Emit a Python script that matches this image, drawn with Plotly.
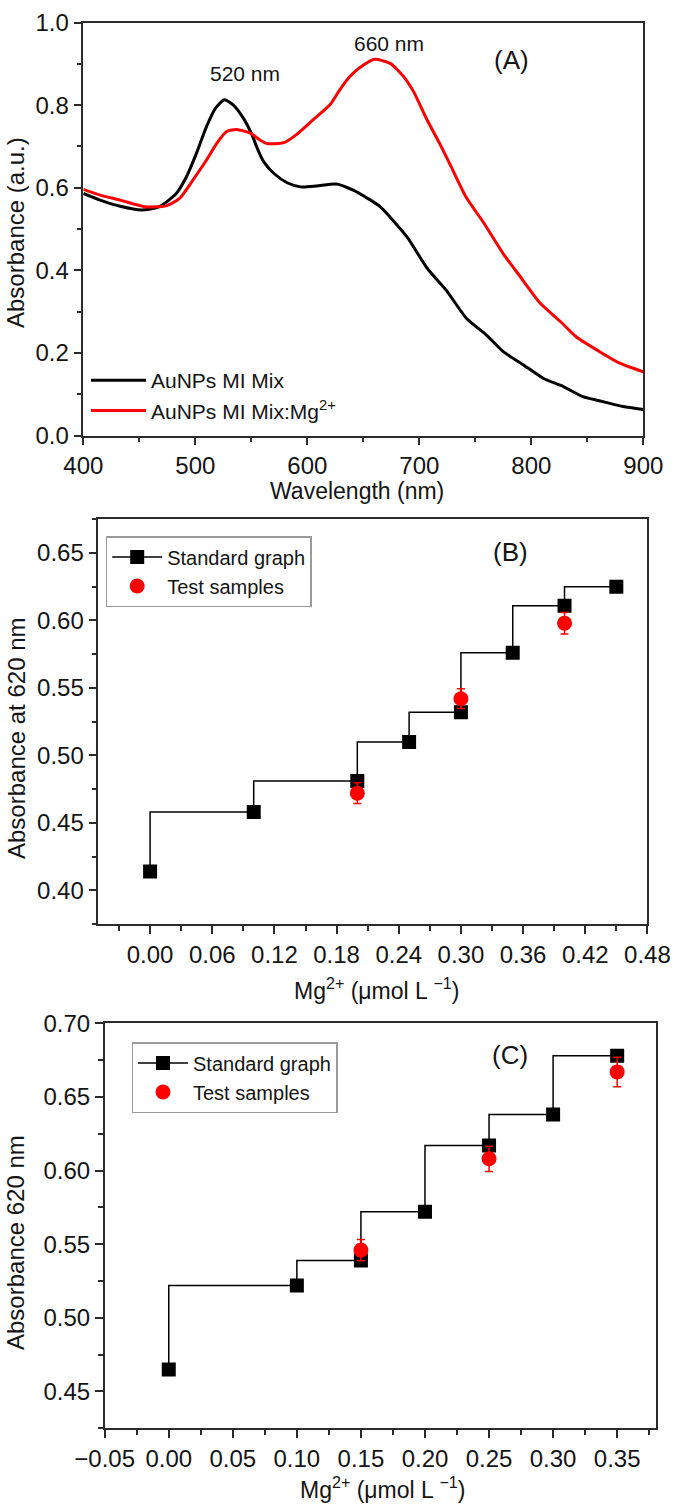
import plotly.graph_objects as go

# ---------------- Panel A : UV-vis spectra ----------------
wl_black = [400, 415, 433, 452, 468, 483, 492, 501, 510, 518, 526, 534, 543, 550, 556, 561,
            570, 582, 594, 608, 626, 641, 654, 665, 689, 707, 724, 742, 760, 775, 793, 811,
            829, 846, 864, 882, 900]
abs_black = [0.586, 0.570, 0.555, 0.546, 0.554, 0.586, 0.626, 0.683, 0.748, 0.792, 0.813, 0.800,
             0.768, 0.732, 0.691, 0.663, 0.635, 0.612, 0.602, 0.604, 0.609, 0.594, 0.574, 0.554,
             0.481, 0.405, 0.352, 0.284, 0.243, 0.203, 0.171, 0.138, 0.118, 0.094, 0.082, 0.070, 0.063]

wl_red = [400, 415, 433, 455, 474, 486, 498, 510, 519, 528, 537, 549, 558, 564, 579, 590, 605,
          620, 629, 638, 647, 660, 674, 686, 695, 707, 718, 727, 742, 757, 775, 790, 808, 826,
          840, 861, 879, 900]
abs_red = [0.596, 0.582, 0.570, 0.554, 0.556, 0.574, 0.619, 0.667, 0.707, 0.736, 0.741, 0.732,
           0.715, 0.707, 0.709, 0.728, 0.764, 0.800, 0.837, 0.869, 0.891, 0.911, 0.901, 0.869,
           0.832, 0.764, 0.708, 0.659, 0.576, 0.517, 0.440, 0.385, 0.320, 0.276, 0.239, 0.203,
           0.175, 0.154]

# ---------------- Panel B ----------------
conc_b = [0.0, 0.1, 0.2, 0.25, 0.3, 0.35, 0.4, 0.45]
std_b = [0.414, 0.458, 0.481, 0.510, 0.532, 0.576, 0.611, 0.625]
test_conc_b = [0.2, 0.3, 0.4]
test_b = [0.472, 0.542, 0.598]
test_err_b = [0.0077, 0.0073, 0.0080]

# ---------------- Panel C ----------------
conc_c = [0.0, 0.1, 0.15, 0.2, 0.25, 0.3, 0.35]
std_c = [0.465, 0.522, 0.539, 0.572, 0.617, 0.638, 0.678]
test_conc_c = [0.15, 0.25, 0.35]
test_c = [0.546, 0.608, 0.667]
test_err_c = [0.0072, 0.0086, 0.0100]

W, H = 675, 1508
FONT = "Liberation Sans, Arial, sans-serif"
TXT = "#141414"
AX = "#2b2b2b"
RED = "#ff0000"


def px_x(p):
    return p / W


def px_y(p):
    return 1 - p / H


fig = go.Figure()

# Panel A traces
fig.add_trace(go.Scatter(x=wl_black, y=abs_black, mode="lines", name="AuNPs MI Mix",
                         line=dict(color="black", width=3, shape="spline", smoothing=0.6),
                         xaxis="x", yaxis="y", legend="legend"))
fig.add_trace(go.Scatter(x=wl_red, y=abs_red, mode="lines", name="AuNPs MI Mix:Mg<sup>2+</sup>",
                         line=dict(color=RED, width=3, shape="spline", smoothing=0.6),
                         xaxis="x", yaxis="y", legend="legend"))

# Panel B traces
fig.add_trace(go.Scatter(x=conc_b, y=std_b, mode="lines+markers", name="Standard graph",
                         line=dict(color="black", width=1.5, shape="vh"),
                         marker=dict(symbol="square", size=14, color="black"),
                         xaxis="x2", yaxis="y2", legend="legend2"))
fig.add_trace(go.Scatter(x=test_conc_b, y=test_b, mode="markers", name="Test samples",
                         marker=dict(symbol="circle", size=15, color=RED),
                         error_y=dict(type="data", array=test_err_b, color=RED, thickness=1.5, width=4),
                         xaxis="x2", yaxis="y2", legend="legend2"))

# Panel C traces
fig.add_trace(go.Scatter(x=conc_c, y=std_c, mode="lines+markers", name="Standard graph",
                         line=dict(color="black", width=1.5, shape="vh"),
                         marker=dict(symbol="square", size=14, color="black"),
                         xaxis="x3", yaxis="y3", legend="legend3"))
fig.add_trace(go.Scatter(x=test_conc_c, y=test_c, mode="markers", name="Test samples",
                         marker=dict(symbol="circle", size=15, color=RED),
                         error_y=dict(type="data", array=test_err_c, color=RED, thickness=1.5, width=4),
                         xaxis="x3", yaxis="y3", legend="legend3"))

axis_common = dict(showline=True, linecolor=AX, linewidth=1.5, mirror=True,
                   ticks="outside", ticklen=8, tickwidth=1.5, tickcolor=AX,
                   showgrid=False, zeroline=False, automargin=False,
                   tickfont=dict(size=24, color=TXT, family=FONT))


def minor(dt, t0):
    return dict(ticks="outside", ticklen=5, tickwidth=1.5, tickcolor=AX, dtick=dt, tick0=t0, showgrid=False)


# Domains (pixel based)
A_x = [px_x(83.3), px_x(643.3)]
A_y = [px_y(435.5), px_y(22.5)]
B_x = [px_x(98.3), px_x(647.4)]
B_y = [px_y(924.0), px_y(519.3)]
C_x = [px_x(104.7), px_x(655.6)]
C_y = [px_y(1428.3), px_y(1023.3)]

fig.update_layout(
    template="none",
    width=W, height=H,
    margin=dict(l=0, r=0, t=0, b=0, pad=0),
    paper_bgcolor="white", plot_bgcolor="white",
    font=dict(family=FONT, color=TXT),
    xaxis=dict(domain=A_x, anchor="y", range=[400, 900], dtick=100, tick0=400,
               minor=minor(50, 400), **axis_common),
    yaxis=dict(domain=A_y, anchor="x", range=[0, 1.0], dtick=0.2, tick0=0, tickformat=".1f",
               minor=minor(0.1, 0), **axis_common),
    xaxis2=dict(domain=B_x, anchor="y2", range=[-0.05, 0.48], dtick=0.06, tick0=0, tickformat=".2f",
                minor=minor(0.03, 0), **axis_common),
    yaxis2=dict(domain=B_y, anchor="x2", range=[0.375, 0.675], dtick=0.05, tick0=0.4, tickformat=".2f",
                minor=minor(0.025, 0.4), **axis_common),
    xaxis3=dict(domain=C_x, anchor="y3", range=[-0.05, 0.38], dtick=0.05, tick0=0, tickformat=".2f",
                minor=minor(0.025, 0), **axis_common),
    yaxis3=dict(domain=C_y, anchor="x3", range=[0.425, 0.70], dtick=0.05, tick0=0.45, tickformat=".2f",
                minor=minor(0.025, 0.45), **axis_common),
    legend=dict(x=px_x(86), y=px_y(360), xanchor="left", yanchor="top",
                bgcolor="rgba(0,0,0,0)", borderwidth=0, itemwidth=55,
                font=dict(size=21, color=TXT, family=FONT), tracegroupgap=0),
    legend2=dict(x=px_x(105.7), y=px_y(536), xanchor="left", yanchor="top",
                 bgcolor="white", bordercolor="#9a9a9a", borderwidth=1.5, itemwidth=50,
                 font=dict(size=20, color=TXT, family=FONT), tracegroupgap=0),
    legend3=dict(x=px_x(131.5), y=px_y(1042), xanchor="left", yanchor="top",
                 bgcolor="white", bordercolor="#9a9a9a", borderwidth=1.5, itemwidth=50,
                 font=dict(size=20, color=TXT, family=FONT), tracegroupgap=0),
    showlegend=True,
)


def ann(x, y, text, size, xref="paper", yref="paper", angle=0):
    return dict(x=x, y=y, xref=xref, yref=yref, text=text, showarrow=False,
                xanchor="center", yanchor="middle", textangle=angle,
                font=dict(size=size, color=TXT, family=FONT))


annotations = [
    # Panel A labels
    ann(544, 0.877, "520 nm", 21, "x", "y"),
    ann(673, 0.950, "660 nm", 21, "x", "y"),
    ann(782, 0.909, "(A)", 26, "x", "y"),
    ann(px_x(357), px_y(491), "Wavelength (nm)", 23),
    ann(px_x(15), px_y(233), "Absorbance (a.u.)", 24, angle=-90),
    # Panel B labels
    ann(0.348, 0.651, "(B)", 26, "x2", "y2"),
    ann(px_x(376), px_y(989), "Mg<sup>2+</sup> (μmol L <sup>−1</sup>)", 23),
    ann(px_x(16), px_y(738), "Absorbance at 620 nm", 24, angle=-90),
    # Panel C labels
    ann(0.266, 0.6785, "(C)", 26, "x3", "y3"),
    ann(px_x(382), px_y(1488), "Mg<sup>2+</sup> (μmol L <sup>−1</sup>)", 23),
    ann(px_x(15), px_y(1243), "Absorbance 620 nm", 24, angle=-90),
]
fig.update_layout(annotations=annotations)

fig.write_html("out.html", config={"displayModeBar": False},
               post_script="document.body.style.margin='0';document.body.style.overflow='hidden';")
